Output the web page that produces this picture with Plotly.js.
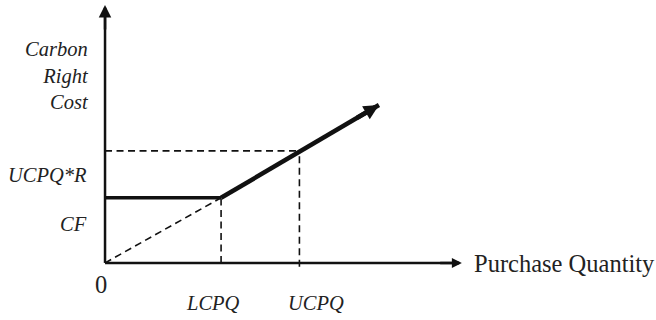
<!DOCTYPE html>
<html>
<head>
<meta charset="utf-8">
<script src="https://cdn.plot.ly/plotly-3.0.1.min.js"></script>
<style>html,body{margin:0;padding:0;background:#fff;}#chart{width:656px;height:320px;}</style>
</head>
<body>
<div id="chart"></div>
<script>
// Conceptual quantities (arbitrary units)
var qLCPQ = 40;          // lower carbon purchase quantity
var qUCPQ = 67;          // upper carbon purchase quantity
var qEnd = 94.4;         // end of the drawn cost curve
var qAxisMax = 123;      // end of the quantity axis
var costCF = 25;         // fixed carbon cost
var costUCPQR = 43;      // UCPQ * R
var costEnd = 60.6;      // cost at end of curve
var costAxisMax = 99;    // top of the cost axis

var yLabels = ["Carbon<br>Right<br>Cost", "UCPQ*R", "CF"];
var xLabels = ["0", "LCPQ", "UCPQ"];
var xAxisTitle = "Purchase Quantity";

var black = "#111";
var dash = "7px,4.5px";
var traces = [
  {x: [0, qLCPQ], y: [costCF, costCF], mode: "lines", line: {color: black, width: 3.5}},
  {x: [qLCPQ, qEnd], y: [costCF, costEnd], mode: "lines", line: {color: black, width: 4.5}},
  {x: [0, qLCPQ], y: [0, costCF], mode: "lines", line: {color: black, width: 1.6, dash: dash}},
  {x: [qLCPQ, qLCPQ], y: [0, costCF], mode: "lines", line: {color: black, width: 1.6, dash: dash}},
  {x: [0, qUCPQ], y: [costUCPQR, costUCPQR], mode: "lines", line: {color: black, width: 1.6, dash: dash}},
  {x: [qUCPQ, qUCPQ], y: [-1.5, costUCPQR], mode: "lines", line: {color: black, width: 1.6, dash: dash}},
  {x: [0, qAxisMax - 1], y: [0, 0], mode: "lines", line: {color: black, width: 2.5}},
  {x: [0, 0], y: [0, costAxisMax - 1], mode: "lines", line: {color: black, width: 2.5}}
];

var serif = "Liberation Serif";
function arrow(x, y, ax, ay, w, s) {
  return {x: x, y: y, ax: ax, ay: ay, xref: "x", yref: "y", axref: "x", ayref: "y",
    text: "", showarrow: true, arrowhead: 2, arrowwidth: w, arrowsize: s, arrowcolor: black, standoff: 0};
}
function label(text, x, y, xa, size, italic, align) {
  return {x: x, y: y, xref: "x", yref: "y", text: text, showarrow: false, xanchor: xa, yanchor: "middle",
    align: align || "center",
    font: {family: serif, size: size, color: "#222", style: italic ? "italic" : "normal"}};
}

var annotations = [
  arrow(qAxisMax, 0, qAxisMax - 8, 0, 2.5, 0.8),
  arrow(0, costAxisMax, 0, costAxisMax - 10, 2.5, 1.0),
  arrow(qEnd, costEnd, qEnd - 8, costEnd - 5.24, 4.5, 0.67),
  label(yLabels[0], -4.8, 72.1, "right", 20.5, true, "right"),
  label(yLabels[1], -5.5, 33.8, "right", 20.5, true, "right"),
  label(yLabels[2], -5.5, 15.0, "right", 20.5, true, "right"),
  label(xLabels[0], -1.5, -8.2, "center", 24.5, false),
  label(xLabels[1], 37.2, -15.3, "center", 20.5, true),
  label(xLabels[2], 72.7, -15.3, "center", 20.5, true),
  label(xAxisTitle, 126.5, -0.4, "left", 24.5, false)
];

var layout = {
  width: 656, height: 320,
  margin: {l: 0, r: 0, t: 0, b: 0},
  font: {family: serif},
  paper_bgcolor: "#fff", plot_bgcolor: "#fff",
  showlegend: false,
  xaxis: {range: [-36.2, 189.9], visible: false, fixedrange: true},
  yaxis: {range: [-21.9, 100.9], visible: false, fixedrange: true},
  annotations: annotations
};
Plotly.newPlot("chart", traces, layout, {staticPlot: true});
</script>
</body>
</html>
